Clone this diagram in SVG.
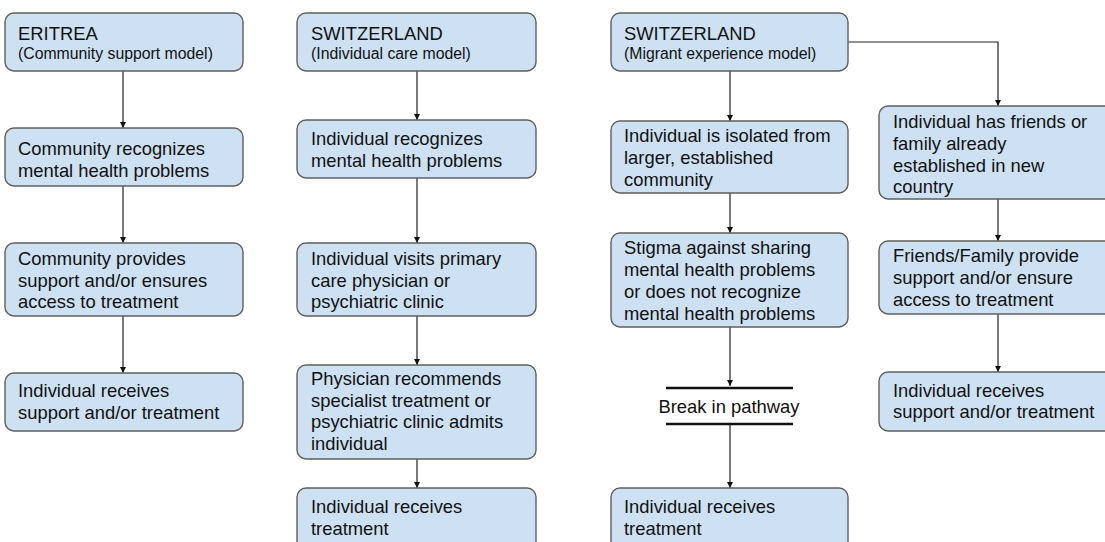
<svg xmlns="http://www.w3.org/2000/svg" width="1105" height="542" viewBox="0 0 1105 542">
<style>
.box{fill:#cde1f3;stroke:#5f5f5f;stroke-width:1.4}
.t{font-family:"Liberation Sans",Arial,sans-serif;font-size:18.4px;fill:#111}
.s{font-family:"Liberation Sans",Arial,sans-serif;font-size:15.8px;fill:#111}
.c{fill:none;stroke:#222;stroke-width:1.2}
.brk{stroke:#111;stroke-width:2.6}
</style>
<defs>
<marker id="ah" viewBox="0 0 10 10" refX="10" refY="5" markerWidth="6" markerHeight="7" markerUnits="userSpaceOnUse" orient="auto">
<path d="M0,0 L10,5 L0,10 z" fill="#111"/>
</marker>
</defs>
<g id="connectors">
<path class="c" d="M123,71 V128" marker-end="url(#ah)"/>
<path class="c" d="M123,186 V243" marker-end="url(#ah)"/>
<path class="c" d="M123,316 V373" marker-end="url(#ah)"/>
<path class="c" d="M417,71 V120" marker-end="url(#ah)"/>
<path class="c" d="M417,178 V243" marker-end="url(#ah)"/>
<path class="c" d="M417,316 V365" marker-end="url(#ah)"/>
<path class="c" d="M417,459 V488" marker-end="url(#ah)"/>
<path class="c" d="M730,71 V121" marker-end="url(#ah)"/>
<path class="c" d="M730,193 V233" marker-end="url(#ah)"/>
<path class="c" d="M730,327 V386" marker-end="url(#ah)"/>
<path class="c" d="M730,425 V488" marker-end="url(#ah)"/>
<path class="c" d="M848,42 H998 V106" marker-end="url(#ah)"/>
<path class="c" d="M998,199 V241" marker-end="url(#ah)"/>
<path class="c" d="M998,314 V372" marker-end="url(#ah)"/>
</g>
<g id="eritrea">
<rect class="box" x="5" y="13" width="238" height="58" rx="9"/>
<text class="t" x="18" y="40">ERITREA</text>
<text class="s" x="18" y="59">(Community support model)</text>
</g>
<g id="e2">
<rect class="box" x="5" y="128" width="238" height="58" rx="9"/>
<text class="t" x="18" y="155">Community recognizes</text>
<text class="t" x="18" y="177">mental health problems</text>
</g>
<g id="e3">
<rect class="box" x="5" y="243" width="238" height="73" rx="9"/>
<text class="t" x="18" y="265">Community provides</text>
<text class="t" x="18" y="287">support and/or ensures</text>
<text class="t" x="18" y="308">access to treatment</text>
</g>
<g id="e4">
<rect class="box" x="5" y="373" width="238" height="58" rx="9"/>
<text class="t" x="18" y="397">Individual receives</text>
<text class="t" x="18" y="419">support and/or treatment</text>
</g>
<g id="switzerland-individual">
<rect class="box" x="297" y="13" width="239" height="58" rx="9"/>
<text class="t" x="311" y="40">SWITZERLAND</text>
<text class="s" x="311" y="59">(Individual care model)</text>
</g>
<g id="s2">
<rect class="box" x="297" y="120" width="239" height="58" rx="9"/>
<text class="t" x="311" y="145">Individual recognizes</text>
<text class="t" x="311" y="167">mental health problems</text>
</g>
<g id="s3">
<rect class="box" x="297" y="243" width="239" height="73" rx="9"/>
<text class="t" x="311" y="265">Individual visits primary</text>
<text class="t" x="311" y="287">care physician or</text>
<text class="t" x="311" y="308">psychiatric clinic</text>
</g>
<g id="s4">
<rect class="box" x="297" y="365" width="239" height="94" rx="9"/>
<text class="t" x="311" y="385">Physician recommends</text>
<text class="t" x="311" y="407">specialist treatment or</text>
<text class="t" x="311" y="428">psychiatric clinic admits</text>
<text class="t" x="311" y="450">individual</text>
</g>
<g id="s5">
<rect class="box" x="297" y="488" width="239" height="70" rx="9"/>
<text class="t" x="311" y="513">Individual receives</text>
<text class="t" x="311" y="535">treatment</text>
</g>
<g id="switzerland-migrant">
<rect class="box" x="611" y="13" width="237" height="58" rx="9"/>
<text class="t" x="624" y="40">SWITZERLAND</text>
<text class="s" x="624" y="59">(Migrant experience model)</text>
</g>
<g id="m2">
<rect class="box" x="611" y="121" width="237" height="72" rx="9"/>
<text class="t" x="624" y="142">Individual is isolated from</text>
<text class="t" x="624" y="164">larger, established</text>
<text class="t" x="624" y="186">community</text>
</g>
<g id="m3">
<rect class="box" x="611" y="233" width="237" height="94" rx="9"/>
<text class="t" x="624" y="254">Stigma against sharing</text>
<text class="t" x="624" y="276">mental health problems</text>
<text class="t" x="624" y="298">or does not recognize</text>
<text class="t" x="624" y="320">mental health problems</text>
</g>
<g id="break">
<line class="brk" x1="666" y1="388" x2="793" y2="388"/>
<line class="brk" x1="666" y1="424" x2="793" y2="424"/>
<text class="t" x="729" y="413" text-anchor="middle">Break in pathway</text>
</g>
<g id="m4">
<rect class="box" x="611" y="488" width="237" height="70" rx="9"/>
<text class="t" x="624" y="513">Individual receives</text>
<text class="t" x="624" y="535">treatment</text>
</g>
<g id="f1">
<rect class="box" x="879" y="106" width="240" height="93" rx="9"/>
<text class="t" x="893" y="128">Individual has friends or</text>
<text class="t" x="893" y="150">family already</text>
<text class="t" x="893" y="172">established in new</text>
<text class="t" x="893" y="193">country</text>
</g>
<g id="f2">
<rect class="box" x="879" y="241" width="240" height="73" rx="9"/>
<text class="t" x="893" y="262">Friends/Family provide</text>
<text class="t" x="893" y="284">support and/or ensure</text>
<text class="t" x="893" y="306">access to treatment</text>
</g>
<g id="f3">
<rect class="box" x="879" y="372" width="240" height="59" rx="9"/>
<text class="t" x="893" y="397">Individual receives</text>
<text class="t" x="893" y="418">support and/or treatment</text>
</g>
</svg>
